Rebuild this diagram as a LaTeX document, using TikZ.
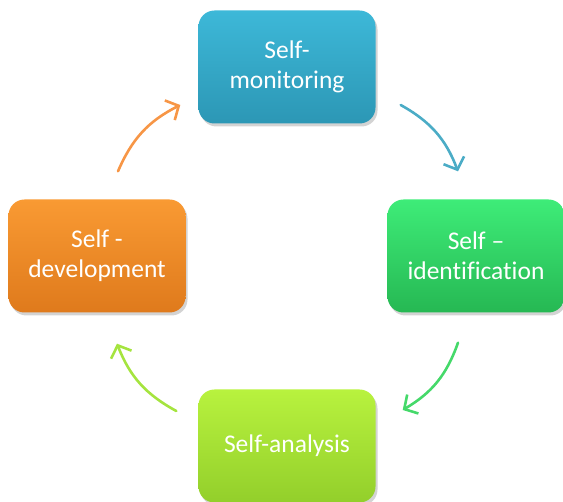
\documentclass[tikz,border=0pt]{standalone}
\usepackage{fontspec}
\setmainfont{Carlito}[Ligatures=CommonOff]
\usepackage{tikz}
\usetikzlibrary{positioning}
\usetikzlibrary{shadows}
\usetikzlibrary{arrows.meta}

\definecolor{tealA}{HTML}{3DB8D8}
\definecolor{tealB}{HTML}{2C97B5}
\definecolor{greenA}{HTML}{3EEC78}
\definecolor{greenB}{HTML}{26B853}
\definecolor{orangeA}{HTML}{F99A33}
\definecolor{orangeB}{HTML}{DF7A1C}
\definecolor{limeA}{HTML}{B8F23E}
\definecolor{limeB}{HTML}{93CF2B}
\definecolor{arrOrange}{HTML}{F79646}
\definecolor{arrTeal}{HTML}{4BACC6}
\definecolor{arrGreen}{HTML}{45D96A}
\definecolor{arrLime}{HTML}{A5E43F}

\tikzset{
  stepbox/.style={rounded corners=16pt, minimum width=177pt, minimum height=113pt,
    inner sep=0pt, align=center, text=white, font=\fontsize{25.5}{30}\selectfont,
    drop shadow={opacity=0.35, shadow xshift=2pt, shadow yshift=-3pt}},
  cyc/.style={line width=2.6pt, line cap=round, -{Straight Barb[length=10pt,width=22pt,line width=2.6pt]}}
}

\begin{document}
\begin{tikzpicture}[x=1pt,y=-1pt]
      \useasboundingbox (0,0) rectangle (563,502);
      \node[stepbox, top color=tealA, bottom color=tealB] (monitor) at (287,67) {Self-\\monitoring};
      \node[stepbox, top color=greenA, bottom color=greenB] (ident) at (476,256) {Self --\\identification};
      \node[stepbox, top color=limeA, bottom color=limeB] (analysis) at (287,446) {Self-analysis};
      \node[stepbox, top color=orangeA, bottom color=orangeB] (develop) at (97,256) {Self -\\development};
      % arrows round the cycle
      \draw[cyc, arrOrange] ([xshift=21pt,yshift=28pt]develop.north) to[bend left=20] ([xshift=-18pt,yshift=-38pt]monitor.west);
      \draw[cyc, arrTeal] ([xshift=25pt,yshift=-38pt]monitor.east) to[bend left=20] ([xshift=-18pt,yshift=28pt]ident.north);
      \draw[cyc, arrGreen] ([xshift=-18pt,yshift=-30pt]ident.south) to[bend left=20] ([xshift=27pt,yshift=36pt]analysis.east);
      \draw[cyc, arrLime] ([xshift=-22pt,yshift=35pt]analysis.west) to[bend left=20] ([xshift=20pt,yshift=-31pt]develop.south);
    \end{tikzpicture}
\end{document}
